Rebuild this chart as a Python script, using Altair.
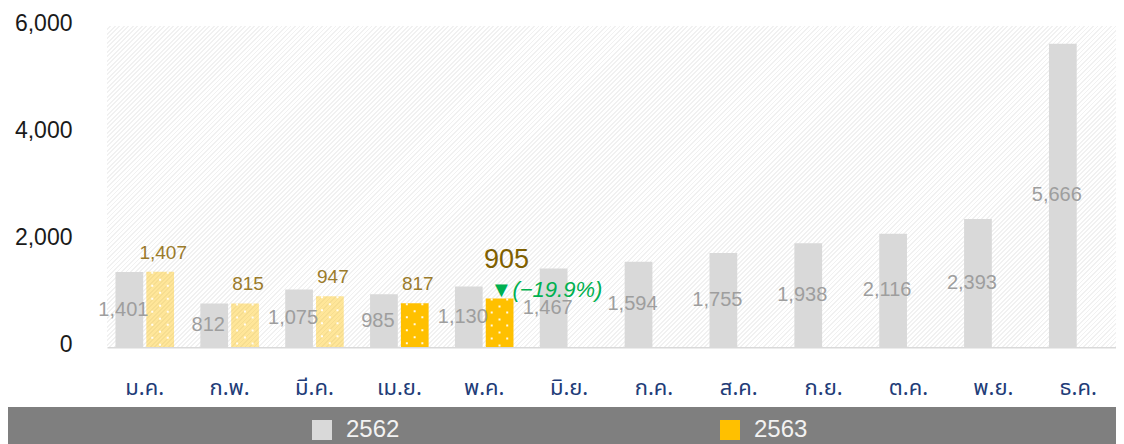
import altair as alt
import pandas as pd

months = ["ม.ค.", "ก.พ.", "มี.ค.", "เม.ย.", "พ.ค.", "มิ.ย.", "ก.ค.", "ส.ค.", "ก.ย.", "ต.ค.", "พ.ย.", "ธ.ค."]
years = ["2562", "2563"]
v2562 = [1401, 812, 1075, 985, 1130, 1467, 1594, 1755, 1938, 2116, 2393, 5666]
v2563 = [1407, 815, 947, 817, 905]
light_2563 = [True, True, True, False, False]   # first three 2563 bars drawn in pale yellow
y_ticks = [0, 2000, 4000, 6000]

W, H = 1009, 321

rows = []
for m, v in zip(months, v2562):
    rows.append({"month": m, "year": "2562", "value": v, "op": 1.0})
for m, v, lt in zip(months, v2563, light_2563):
    rows.append({"month": m, "year": "2563", "value": v, "op": 0.4 if lt else 1.0})
df = pd.DataFrame(rows)

last = len(v2563) - 1
chg = (v2563[last] - v2562[last]) / v2562[last] * 100
df_last = pd.DataFrame([{"month": months[last], "year": "2563", "value": v2563[last],
                         "lbl": f"{v2563[last]:,}", "chg": f"▼(−{abs(chg):.1f}%)"}])

# faint diagonal hatch for the plot background
n = int((W + H) / 4.5)
stops = []
for i in range(n):
    o = i / n
    stops.append(alt.GradientStop(offset=o, color="#FFFFFF"))
    stops.append(alt.GradientStop(offset=o + 0.6 / n, color="#FFFFFF"))
    stops.append(alt.GradientStop(offset=o + 0.6 / n, color="#F1F1F1"))
    stops.append(alt.GradientStop(offset=min(1.0, (i + 1) / n), color="#F1F1F1"))
k = (W + H) / (W + H * H / W)
hatch = alt.LinearGradient(gradient="linear", stops=stops, x1=0, y1=0, x2=k, y2=k * H / W)

one = pd.DataFrame({"a": [0]})
bg = alt.Chart(one).mark_rect(fill=hatch).encode(
    x=alt.value(0), x2=alt.value(W), y=alt.value(0), y2=alt.value(H))
band = alt.Chart(one).mark_rect(color="#7F7F7F").encode(
    x=alt.value(-99), x2=alt.value(W), y=alt.value(381), y2=alt.value(420))

xenc = alt.X("month:N", sort=months, title=None,
             scale=alt.Scale(paddingInner=0.31, paddingOuter=0.1),
             axis=alt.Axis(labelAngle=0, labelFontSize=22, labelColor="#223C78",
                           labelFont="Noto Sans Thai, Noto Sans, sans-serif",
                           labelPadding=30, ticks=False, domainColor="#D9D9D9",
                           domainWidth=2, grid=False))
yenc = alt.Y("value:Q", title=None, scale=alt.Scale(domain=[0, 6000], nice=False),
             axis=alt.Axis(values=y_ticks, format=",.0f", labelFontSize=23, labelColor="#1A1A1A",
                           labelFont="Liberation Sans", labelPadding=35, labelOffset=-3,
                           ticks=False, domain=False, grid=False))
xoff = alt.XOffset("year:N", scale=alt.Scale(paddingInner=0.1, paddingOuter=0))

bars = alt.Chart(df).mark_bar().encode(
    x=xenc, y=yenc, xOffset=xoff,
    color=alt.Color("year:N", scale=alt.Scale(domain=years, range=["#D9D9D9", "#FFC000"]),
                    legend=alt.Legend(title=None, orient="none", legendX=203, legendY=392,
                                      direction="horizontal", symbolType="square",
                                      symbolSize=400, symbolStrokeWidth=0, symbolOpacity=1,
                                      labelFontSize=24, labelColor="#F2F2F2",
                                      labelFont="Liberation Sans", labelOffset=12,
                                      columnPadding=318, padding=0, zindex=1)),
    opacity=alt.Opacity("op:Q", scale=None, legend=None),
)

dots = []
for off, dash_off in [(7.5, 0), (15.3, 6), (23, 0)]:
    dots.append(alt.Chart(df).transform_filter(alt.datum.year == "2563").mark_rule(
        color="white", strokeWidth=2, strokeDash=[2, 11], strokeDashOffset=dash_off,
        xOffset=off, opacity=0.9).encode(
        x=alt.X("month:N", sort=months), y=alt.Y("value:Q"), y2=alt.datum(0)))

lab62 = alt.Chart(df).transform_filter(alt.datum.year == "2562").transform_calculate(
    half="datum.value / 2").mark_text(fontSize=20, color="#9E9E9E", font="Liberation Sans",
                                     dx=-6, baseline="middle").encode(
    x=alt.X("month:N", sort=months), xOffset="year:N", y=alt.Y("half:Q"),
    text=alt.Text("value:Q", format=",.0f"))

lab63 = alt.Chart(df).transform_filter(
    (alt.datum.year == "2563") & (alt.datum.month != months[last])).mark_text(
    fontSize=19, color="#9B7B2B", font="Liberation Sans", dx=3, dy=-19,
    baseline="middle").encode(
    x=alt.X("month:N", sort=months), xOffset="year:N", y=alt.Y("value:Q"),
    text=alt.Text("value:Q", format=",.0f"))

big = alt.Chart(df_last).mark_text(fontSize=27, color="#7F6000", font="Liberation Sans",
                                   dx=7, dy=-39, baseline="middle").encode(
    x=alt.X("month:N", sort=months), xOffset="year:N", y=alt.Y("value:Q"), text="lbl:N")
chg_lbl = alt.Chart(df_last).mark_text(fontSize=22, color="#00B050", font="Liberation Sans",
                                       fontStyle="italic", align="left", dx=-9, dy=-9,
                                       baseline="middle").encode(
    x=alt.X("month:N", sort=months), xOffset="year:N", y=alt.Y("value:Q"), text="chg:N")

chart = alt.layer(bg, band, bars, *dots, lab62, lab63, big, chg_lbl).properties(
    width=W, height=H,
    autosize=alt.AutoSizeParams(type="none"),
    padding={"left": 99, "top": 18, "right": 0, "bottom": 97},
    background="white",
).configure_view(stroke=None)

chart.save("out.html", embed_options={"renderer": "svg", "actions": False})
